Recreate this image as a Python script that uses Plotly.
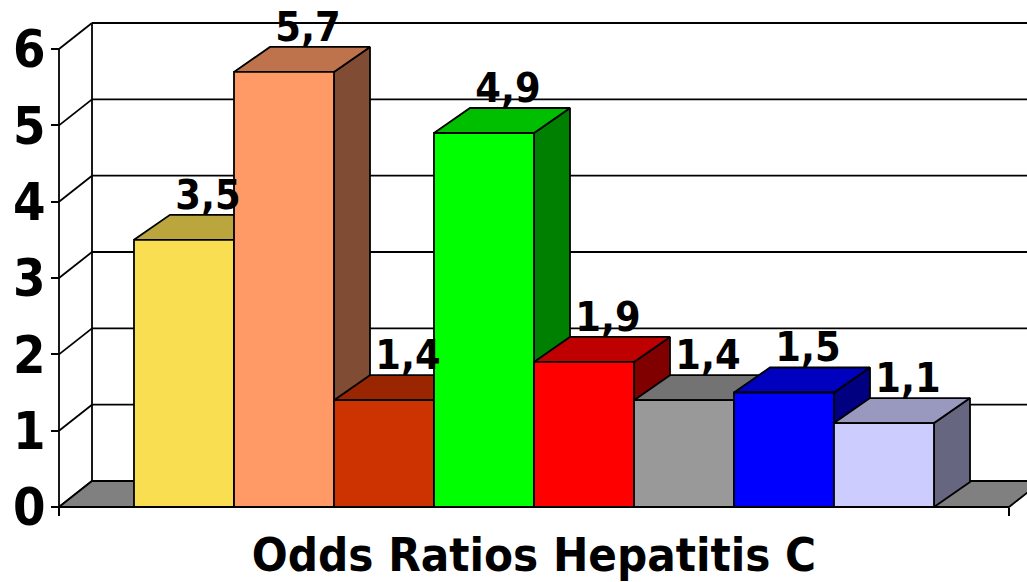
import plotly.graph_objects as go

# ---------------- data ----------------
bar_index = [0, 1, 2, 3, 4, 5, 6, 7]
values = [3.5, 5.7, 1.4, 4.9, 1.9, 1.4, 1.5, 1.1]
value_labels = ["3,5", "5,7", "1,4", "4,9", "1,9", "1,4", "1,5", "1,1"]
bar_colors = ["#F8DE50", "#FF9966", "#CC3300", "#00FF00",
              "#FF0000", "#999999", "#0000FF", "#CCCCFF"]
y_tick_vals = [0, 1, 2, 3, 4, 5, 6]
y_tick_text = ["0", "1", "2", "3", "4", "5", "6"]
title_text = "Odds Ratios Hepatitis C"

# ---------------- layout constants ----------------
W, H = 1027, 582
PX_X = 100.0          # pixels per category unit
PX_Y = 76.33          # pixels per value unit
x_range = [-1.84, -1.84 + W / PX_X]
y_range = [-75 / PX_Y, -75 / PX_Y + H / PX_Y]

pad = 0.75                                  # floor overhang each side of the bars
xa = bar_index[0] - 0.5 - pad               # front-left corner of the floor
xb = bar_index[-1] + 0.5 + pad              # front-right corner of the floor
ymax = y_tick_vals[-1]

bar_dx, bar_dy = 36 / PX_X, 25 / PX_Y       # 3D depth of the bars
wall_dx, wall_dy = 33 / PX_X, 26 / PX_Y     # 3D depth of the walls

FONT = "DejaVu Sans Condensed, DejaVu Sans"


def shade(hexc, f):
    r, g, b = int(hexc[1:3], 16), int(hexc[3:5], 16), int(hexc[5:7], 16)
    return f"rgb({round(r * f)},{round(g * f)},{round(b * f)})"


def poly(xs, ys, fill, lw=1.8):
    return go.Scatter(x=xs + [xs[0]], y=ys + [ys[0]], mode="lines", fill="toself",
                      fillcolor=fill, line=dict(color="black", width=lw),
                      hoverinfo="skip", showlegend=False)


fig = go.Figure()

# ---- walls: gridlines on back wall, side-wall diagonals, front axis line ----
lx, ly = [], []
bx = xa + wall_dx
lx += [bx, bx, None]; ly += [wall_dy, ymax + wall_dy, None]
for k in y_tick_vals:
    if k > 0:
        lx += [bx, xb + wall_dx, None]; ly += [k + wall_dy, k + wall_dy, None]
    lx += [xa, bx, None]; ly += [k, k + wall_dy, None]
lx += [xa, xa, None]; ly += [0, ymax, None]
fig.add_trace(go.Scatter(x=lx, y=ly, mode="lines", line=dict(color="black", width=1.8),
                         hoverinfo="skip", showlegend=False))

# ---- floor ----
fig.add_trace(poly([xa, xb, xb + wall_dx, xa + wall_dx],
                   [0, 0, wall_dy, wall_dy], "#808080"))

# ---- bars (painter's order, left to right) ----
for i, v, c in zip(bar_index, values, bar_colors):
    xl, xr = i - 0.5, i + 0.5
    fig.add_trace(poly([xr, xr + bar_dx, xr + bar_dx, xr],
                       [0, bar_dy, v + bar_dy, v], shade(c, 0.5)))
    fig.add_trace(poly([xl, xr, xr + bar_dx, xl + bar_dx],
                       [v, v, v + bar_dy, v + bar_dy], shade(c, 0.75)))
    fig.add_trace(poly([xl, xr, xr, xl], [0, 0, v, v], c))

# ---- value labels ----
lab_fs = 41
fig.add_trace(go.Scatter(
    x=[i + 0.24 for i in bar_index],
    y=[v + bar_dy + (0.35 * lab_fs + 2) / PX_Y for v in values],
    mode="text", text=value_labels, textposition="middle center",
    textfont=dict(family=FONT, size=lab_fs, color="black", weight="bold"),
    cliponaxis=False, hoverinfo="skip", showlegend=False))

# ---- title ----
title_fs = 47
fig.add_trace(go.Scatter(
    x=[(xa + xb) / 2], y=[-(69 - 0.35 * title_fs) / PX_Y],
    mode="text", text=[title_text], textposition="middle center",
    textfont=dict(family=FONT, size=title_fs, color="black", weight="bold"),
    cliponaxis=False, hoverinfo="skip", showlegend=False))

fig.update_layout(
    width=W, height=H,
    margin=dict(l=0, r=0, t=0, b=0),
    paper_bgcolor="white", plot_bgcolor="white",
    showlegend=False,
    xaxis=dict(range=x_range, anchor="free",
               position=(0 - y_range[0]) / (y_range[1] - y_range[0]),
               showgrid=False, zeroline=False, showline=False,
               ticks="outside", ticklen=8, tickwidth=2, tickcolor="black",
               tickvals=[xa, xb], showticklabels=False, fixedrange=True),
    yaxis=dict(range=y_range, anchor="free",
               position=(xa - x_range[0]) / (x_range[1] - x_range[0]),
               showgrid=False, zeroline=False, showline=False,
               ticks="outside", ticklen=8, tickwidth=2, tickcolor="black",
               tickvals=y_tick_vals, ticktext=y_tick_text, ticklabelstandoff=-5,
               tickfont=dict(family=FONT, size=52, color="black", weight="bold"),
               fixedrange=True),
)

fig.write_html("out.html", config={"displayModeBar": False},
               post_script="document.body.style.margin='0px';")
